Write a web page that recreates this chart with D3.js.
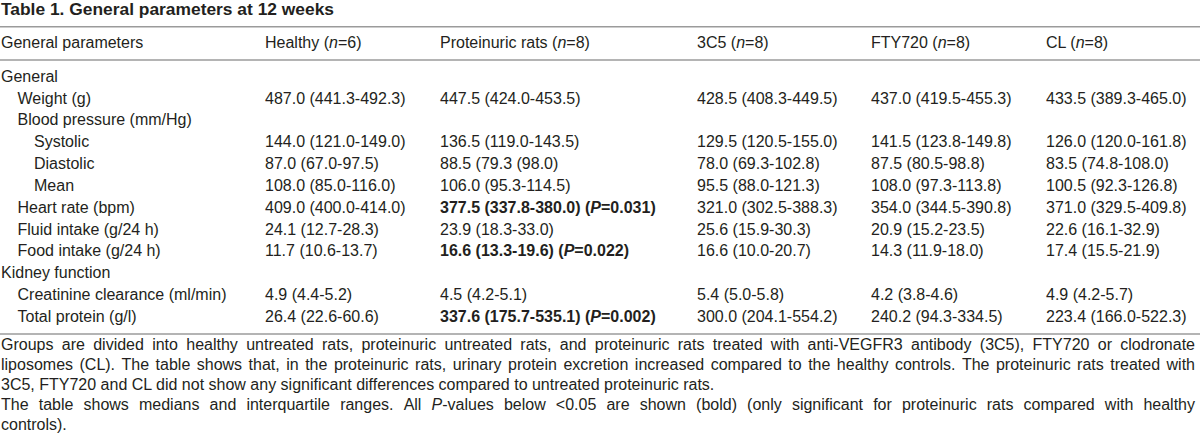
<!DOCTYPE html>
<html><head><meta charset="utf-8">
<script src="https://cdn.jsdelivr.net/npm/d3@7"></script>
<style>
html,body{margin:0;padding:0;background:#fff;}
svg{display:block;font-family:"Liberation Sans",Arial,Helvetica,sans-serif;}
</style>
</head><body><svg id="chart" width="1200" height="447"></svg>
<script>
// ---------- data ----------
const title = "Table 1. General parameters at 12 weeks";
const columnKeys = ["param", "healthy", "proteinuric", "c3c5", "fty720", "cl"];
const columnNames = ["General parameters", "Healthy", "Proteinuric rats", "3C5", "FTY720", "CL"];
const columnN = [null, 6, 8, 8, 8, 8];
const rowLabels = ["General", "Weight (g)", "Blood pressure (mm/Hg)", "Systolic", "Diastolic", "Mean",
  "Heart rate (bpm)", "Fluid intake (g/24 h)", "Food intake (g/24 h)", "Kidney function",
  "Creatinine clearance (ml/min)", "Total protein (g/l)"];
const rowLevels = [0, 1, 1, 2, 2, 2, 1, 1, 1, 0, 1, 1];
const healthy = ["", "487.0 (441.3-492.3)", "", "144.0 (121.0-149.0)", "87.0 (67.0-97.5)", "108.0 (85.0-116.0)",
  "409.0 (400.0-414.0)", "24.1 (12.7-28.3)", "11.7 (10.6-13.7)", "", "4.9 (4.4-5.2)", "26.4 (22.6-60.6)"];
const proteinuric = ["", "447.5 (424.0-453.5)", "", "136.5 (119.0-143.5)", "88.5 (79.3 (98.0)", "106.0 (95.3-114.5)",
  "377.5 (337.8-380.0)", "23.9 (18.3-33.0)", "16.6 (13.3-19.6)", "", "4.5 (4.2-5.1)", "337.6 (175.7-535.1)"];
const proteinuricP = [null, null, null, null, null, null, "0.031", null, "0.022", null, null, "0.002"];
const c3c5 = ["", "428.5 (408.3-449.5)", "", "129.5 (120.5-155.0)", "78.0 (69.3-102.8)", "95.5 (88.0-121.3)",
  "321.0 (302.5-388.3)", "25.6 (15.9-30.3)", "16.6 (10.0-20.7)", "", "5.4 (5.0-5.8)", "300.0 (204.1-554.2)"];
const fty720 = ["", "437.0 (419.5-455.3)", "", "141.5 (123.8-149.8)", "87.5 (80.5-98.8)", "108.0 (97.3-113.8)",
  "354.0 (344.5-390.8)", "20.9 (15.2-23.5)", "14.3 (11.9-18.0)", "", "4.2 (3.8-4.6)", "240.2 (94.3-334.5)"];
const cl = ["", "433.5 (389.3-465.0)", "", "126.0 (120.0-161.8)", "83.5 (74.8-108.0)", "100.5 (92.3-126.8)",
  "371.0 (329.5-409.8)", "22.6 (16.1-32.9)", "17.4 (15.5-21.9)", "", "4.9 (4.2-5.7)", "223.4 (166.0-522.3)"];
// footnote: _x_ marks italic
const footnoteLines = [
  "Groups are divided into healthy untreated rats, proteinuric untreated rats, and proteinuric rats treated with anti-VEGFR3 antibody (3C5), FTY720 or clodronate",
  "liposomes (CL). The table shows that, in the proteinuric rats, urinary protein excretion increased compared to the healthy controls. The proteinuric rats treated with",
  "3C5, FTY720 and CL did not show any significant differences compared to untreated proteinuric rats.",
  "The table shows medians and interquartile ranges. All _P_-values below <0.05 are shown (bold) (only significant for proteinuric rats compared with healthy",
  "controls)."
];
const footnoteJustify = [true, true, false, true, false];

// ---------- layout ----------
const W = 1200, left = 1, right = 1195;
const ink = "#231f20", ruleColor = "#9b9b9b";
const fs = 16;
const svg = d3.select("#chart");

const x = d3.scaleOrdinal().domain(columnKeys).range([left, 265, 440, 697, 871, 1046]);
const indent = d3.scaleLinear().domain([0, 2]).range([left, 34]);
const y = d3.scaleLinear().domain([0, rowLabels.length - 1]).range([81.7, 81.7 + 11 * 21.84]);
const yFoot = d3.scaleLinear().domain([0, footnoteLines.length - 1]).range([349.5, 429.5]);

function addSegs(textSel, segs) {
  segs.forEach(s => {
    const t = textSel.append("tspan").text(s.t);
    if (s.i) t.attr("font-style", "italic");
    if (s.b) t.attr("font-weight", "bold");
  });
  return textSel;
}
function parseMarkup(str) {
  const segs = [];
  str.split(/(_[^_]+_)/).forEach(p => {
    if (!p) return;
    if (p.startsWith("_") && p.endsWith("_")) segs.push({t: p.slice(1, -1), i: true});
    else segs.push({t: p});
  });
  return segs;
}

// title
svg.append("text").attr("x", left).attr("y", 14.5)
  .attr("font-size", 17).attr("font-weight", "bold").attr("fill", ink)
  .attr("textLength", 333).attr("lengthAdjust", "spacingAndGlyphs")
  .text(title);

// rules
[26.7, 60, 334].forEach(ry => {
  svg.append("line").attr("x1", 0).attr("x2", W).attr("y1", ry).attr("y2", ry)
    .attr("stroke", ruleColor).attr("stroke-width", 1.4);
});

// header
const header = svg.append("g").attr("font-size", fs).attr("fill", ink);
columnKeys.forEach((k, i) => {
  const t = header.append("text").attr("x", x(k)).attr("y", 48.3);
  if (columnN[i] == null) addSegs(t, [{t: columnNames[i]}]);
  else addSegs(t, [{t: columnNames[i] + " ("}, {t: "n", i: true}, {t: "=" + columnN[i] + ")"}]);
});

// body
const body = svg.append("g").attr("font-size", fs).attr("fill", ink);
body.selectAll("text.label").data(rowLabels).join("text")
  .attr("class", "label")
  .attr("x", (d, i) => indent(rowLevels[i]))
  .attr("y", (d, i) => y(i))
  .text(d => d);

const cols = {healthy, proteinuric, c3c5, fty720, cl};
Object.keys(cols).forEach(k => {
  cols[k].forEach((v, i) => {
    if (!v) return;
    const t = body.append("text").attr("x", x(k)).attr("y", y(i));
    if (k === "proteinuric" && proteinuricP[i]) {
      t.attr("font-weight", "bold");
      addSegs(t, [{t: v + " ("}, {t: "P", i: true}, {t: "=" + proteinuricP[i] + ")"}]);
    } else t.text(v);
  });
});

// footnote
const foot = svg.append("g").attr("font-size", fs).attr("fill", ink);
footnoteLines.forEach((line, li) => {
  const yy = yFoot(li);
  if (!footnoteJustify[li]) {
    addSegs(foot.append("text").attr("x", left).attr("y", yy), parseMarkup(line));
    return;
  }
  const words = line.split(" ");
  const nodes = words.map(w => addSegs(foot.append("text").attr("y", yy), parseMarkup(w)));
  const widths = nodes.map(n => n.node().getComputedTextLength());
  const total = d3.sum(widths);
  const gap = (right - left - total) / (words.length - 1);
  let cx = left;
  nodes.forEach((n, i) => { n.attr("x", cx); cx += widths[i] + gap; });
});
</script>
</body></html>
